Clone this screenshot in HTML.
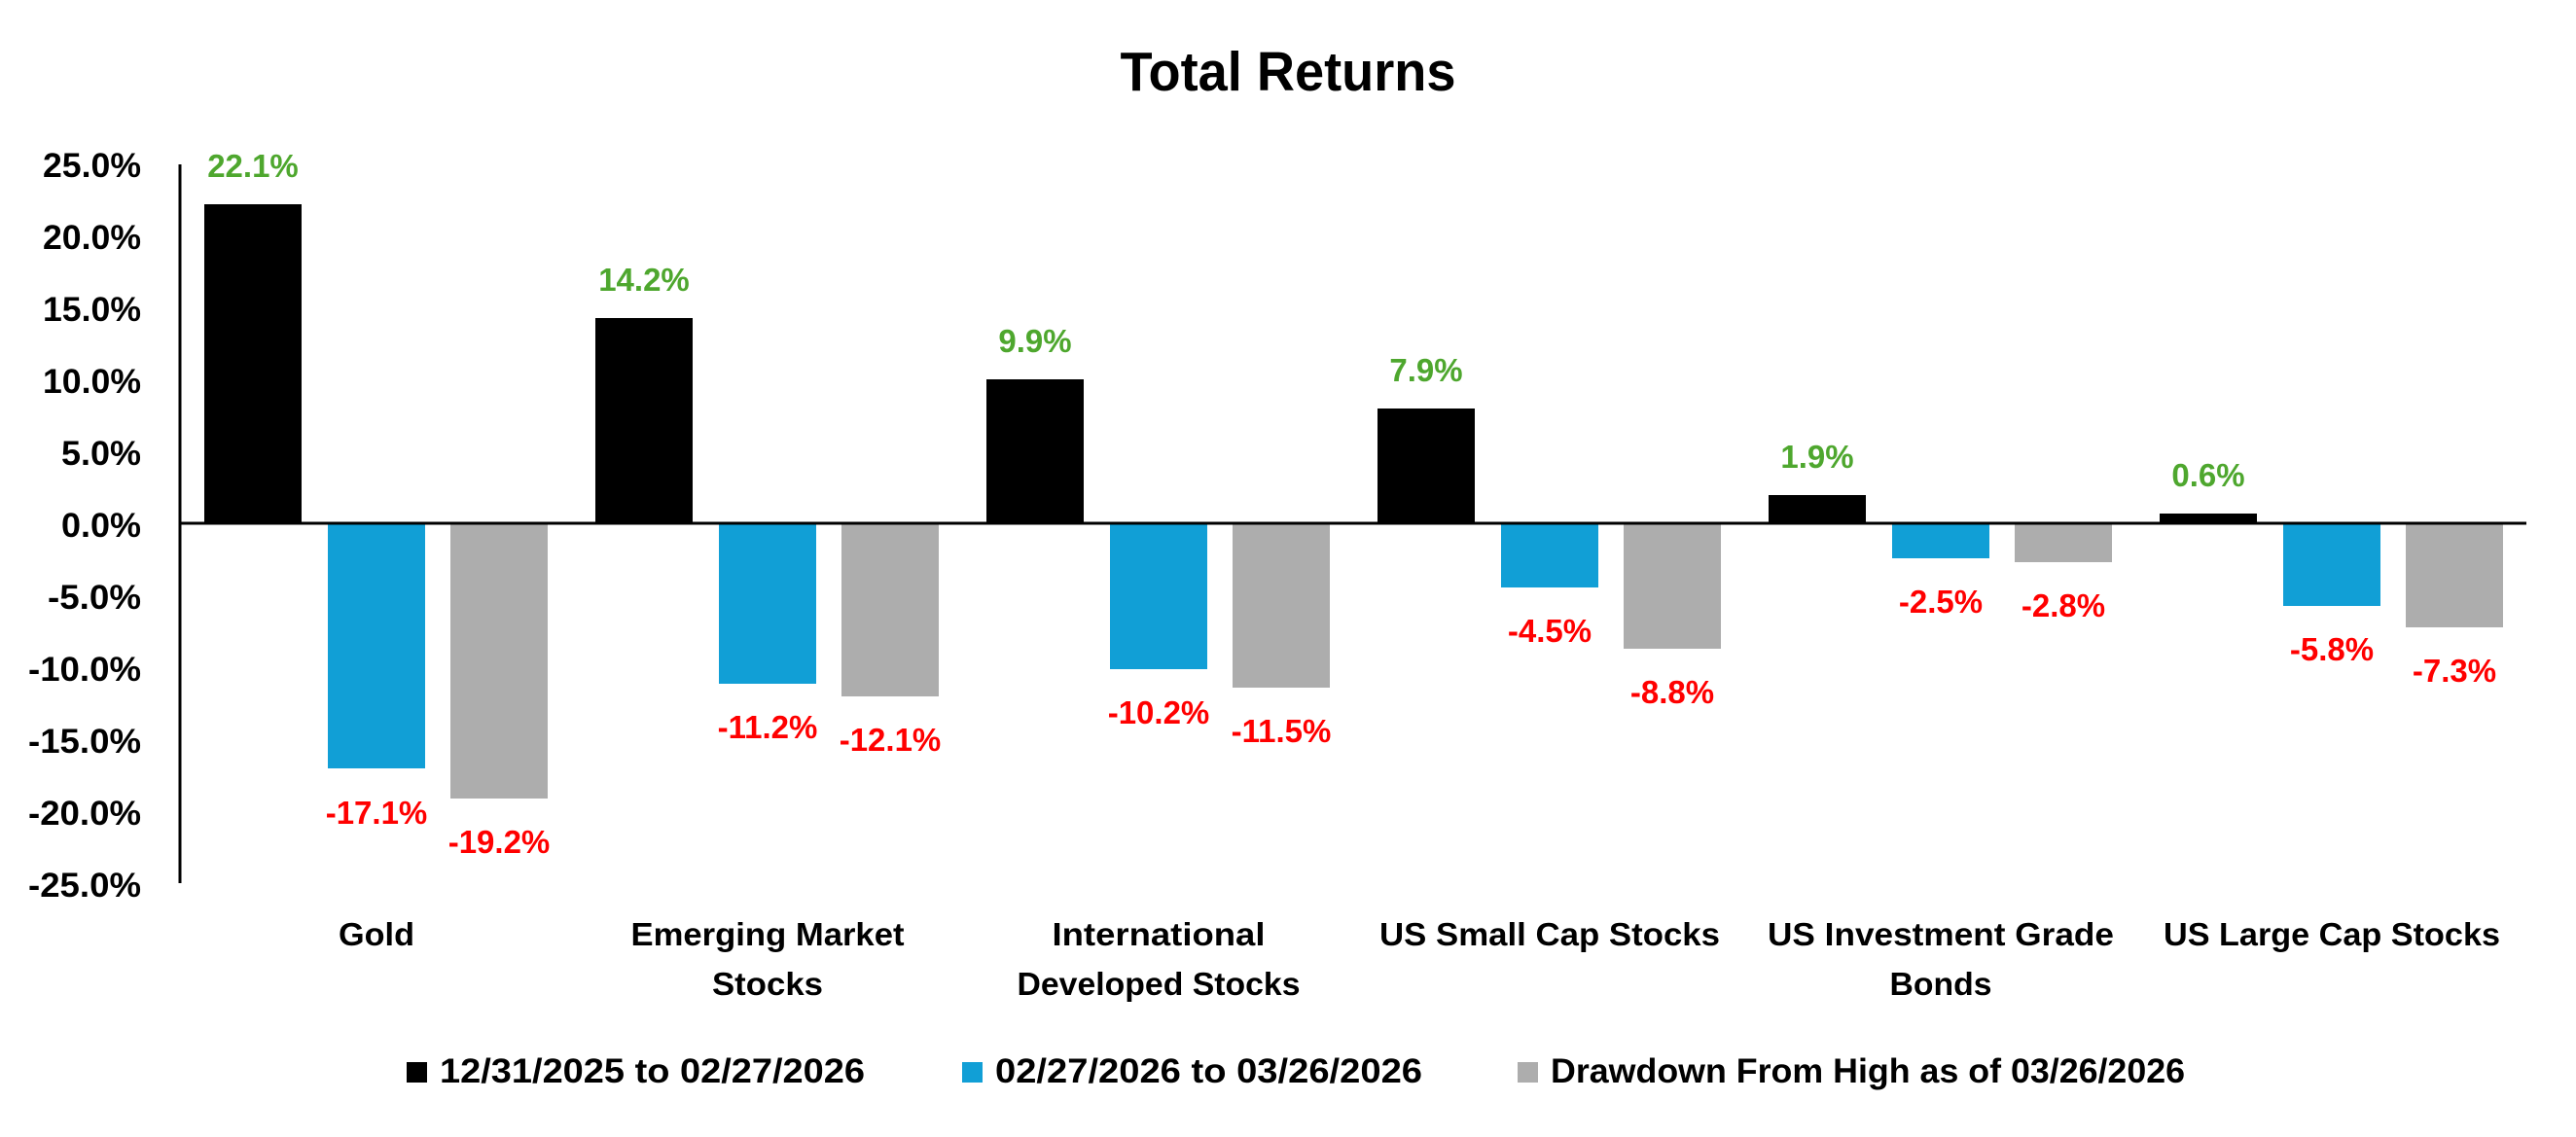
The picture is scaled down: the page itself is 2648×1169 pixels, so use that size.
<!DOCTYPE html>
<html><head><meta charset="utf-8"><style>
html,body{margin:0;padding:0;background:#fff;}
svg{display:block;}
text{font-family:"Liberation Sans",Arial,sans-serif;font-weight:bold;}
</style></head><body>
<svg width="2648" height="1169" viewBox="0 0 2648 1169" xmlns="http://www.w3.org/2000/svg">
<rect width="2648" height="1169" fill="#fff"/>
<text x="1324" y="93" font-size="57" text-anchor="middle" textLength="345" lengthAdjust="spacingAndGlyphs">Total Returns</text>
<g font-size="35" text-anchor="end">
<text x="145" y="182" textLength="101" lengthAdjust="spacingAndGlyphs">25.0%</text>
<text x="145" y="256" textLength="101" lengthAdjust="spacingAndGlyphs">20.0%</text>
<text x="145" y="330" textLength="101" lengthAdjust="spacingAndGlyphs">15.0%</text>
<text x="145" y="404" textLength="101" lengthAdjust="spacingAndGlyphs">10.0%</text>
<text x="145" y="478" textLength="82" lengthAdjust="spacingAndGlyphs">5.0%</text>
<text x="145" y="552" textLength="82" lengthAdjust="spacingAndGlyphs">0.0%</text>
<text x="145" y="626" textLength="96" lengthAdjust="spacingAndGlyphs">-5.0%</text>
<text x="145" y="700" textLength="116" lengthAdjust="spacingAndGlyphs">-10.0%</text>
<text x="145" y="774" textLength="116" lengthAdjust="spacingAndGlyphs">-15.0%</text>
<text x="145" y="848" textLength="116" lengthAdjust="spacingAndGlyphs">-20.0%</text>
<text x="145" y="922" textLength="116" lengthAdjust="spacingAndGlyphs">-25.0%</text>
</g>
<!-- bars: zero 537, 14.8px per % -->
<g>
<rect x="210" y="210" width="100" height="327" fill="#000"/>
<rect x="337" y="537" width="100" height="253" fill="#119FD6"/>
<rect x="463" y="537" width="100" height="284" fill="#ADADAD"/>

<rect x="612" y="327" width="100" height="210" fill="#000"/>
<rect x="739" y="537" width="100" height="166" fill="#119FD6"/>
<rect x="865" y="537" width="100" height="179" fill="#ADADAD"/>

<rect x="1014" y="390" width="100" height="147" fill="#000"/>
<rect x="1141" y="537" width="100" height="151" fill="#119FD6"/>
<rect x="1267" y="537" width="100" height="170" fill="#ADADAD"/>

<rect x="1416" y="420" width="100" height="117" fill="#000"/>
<rect x="1543" y="537" width="100" height="67" fill="#119FD6"/>
<rect x="1669" y="537" width="100" height="130" fill="#ADADAD"/>

<rect x="1818" y="509" width="100" height="28" fill="#000"/>
<rect x="1945" y="537" width="100" height="37" fill="#119FD6"/>
<rect x="2071" y="537" width="100" height="41" fill="#ADADAD"/>

<rect x="2220" y="528" width="100" height="9" fill="#000"/>
<rect x="2347" y="537" width="100" height="86" fill="#119FD6"/>
<rect x="2473" y="537" width="100" height="108" fill="#ADADAD"/>
</g>
<line x1="185" y1="169" x2="185" y2="908" stroke="#000" stroke-width="3"/>
<line x1="184" y1="538" x2="2597" y2="538" stroke="#000" stroke-width="3"/>
<g font-size="33" text-anchor="middle" fill="#4EA72E">
<text x="260" y="182">22.1%</text>
<text x="662" y="299">14.2%</text>
<text x="1064" y="362">9.9%</text>
<text x="1466" y="392">7.9%</text>
<text x="1868" y="481">1.9%</text>
<text x="2270" y="500">0.6%</text>
</g>
<g font-size="33" text-anchor="middle" fill="#FF0000">
<text x="387" y="847">-17.1%</text>
<text x="513" y="877">-19.2%</text>
<text x="789" y="759">-11.2%</text>
<text x="915" y="772">-12.1%</text>
<text x="1191" y="744">-10.2%</text>
<text x="1317" y="763">-11.5%</text>
<text x="1593" y="660">-4.5%</text>
<text x="1719" y="723">-8.8%</text>
<text x="1995" y="630">-2.5%</text>
<text x="2121" y="634">-2.8%</text>
<text x="2397" y="679">-5.8%</text>
<text x="2523" y="701">-7.3%</text>
</g>
<g font-size="33" text-anchor="middle">
<text x="387" y="972" textLength="78" lengthAdjust="spacingAndGlyphs">Gold</text>
<text x="789" y="972" textLength="281" lengthAdjust="spacingAndGlyphs">Emerging Market</text>
<text x="789" y="1023" textLength="114" lengthAdjust="spacingAndGlyphs">Stocks</text>
<text x="1191" y="972" textLength="219" lengthAdjust="spacingAndGlyphs">International</text>
<text x="1191" y="1023" textLength="291" lengthAdjust="spacingAndGlyphs">Developed Stocks</text>
<text x="1593" y="972" textLength="350" lengthAdjust="spacingAndGlyphs">US Small Cap Stocks</text>
<text x="1995" y="972" textLength="356" lengthAdjust="spacingAndGlyphs">US Investment Grade</text>
<text x="1995" y="1023" textLength="105" lengthAdjust="spacingAndGlyphs">Bonds</text>
<text x="2397" y="972" textLength="346" lengthAdjust="spacingAndGlyphs">US Large Cap Stocks</text>
</g>
<g font-size="35">
<rect x="418" y="1092" width="21" height="21" fill="#000"/>
<text x="452" y="1113" textLength="437" lengthAdjust="spacingAndGlyphs">12/31/2025 to 02/27/2026</text>
<rect x="989" y="1092" width="21" height="21" fill="#119FD6"/>
<text x="1023" y="1113" textLength="439" lengthAdjust="spacingAndGlyphs">02/27/2026 to 03/26/2026</text>
<rect x="1560" y="1092" width="21" height="21" fill="#ADADAD"/>
<text x="1594" y="1113" textLength="652" lengthAdjust="spacingAndGlyphs">Drawdown From High as of 03/26/2026</text>
</g>
</svg>
</body></html>
